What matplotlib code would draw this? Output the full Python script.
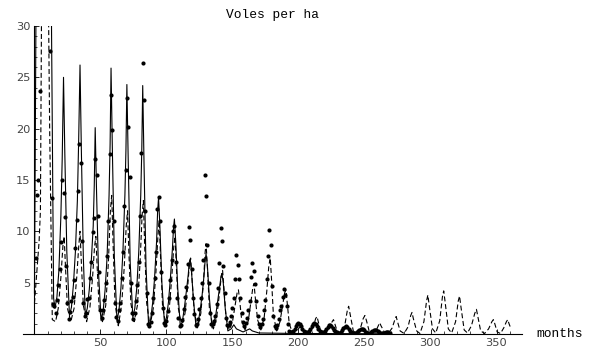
import matplotlib
matplotlib.use("Agg")
import matplotlib.pyplot as plt
from matplotlib.ticker import MultipleLocator

# solid line (model), vertices
solid_x = [0, 1.5, 12, 14.5,
           15.5, 17, 18.5, 20, 21, 22, 23, 24.5, 26.5,
           28, 29.5, 31, 32.5, 33.5, 34.5, 35.5, 37, 38.5,
           40, 41.5, 43, 44.5, 45.3, 46, 47, 48.5, 50.5,
           52, 53.5, 55, 56.5, 57.3, 58, 59, 60.5, 62.5,
           64, 65.5, 67, 68.5, 69.3, 70, 71, 72.5, 74.5,
           76, 77.5, 79, 80.5, 81.3, 82, 83, 84.5, 86.5,
           88, 89.5, 91, 92.5, 93.3, 94, 95, 96.5, 98.5,
           100, 101.5, 103, 104.5, 105.3, 106, 107, 108.5, 110.5,
           112, 113.5, 115, 116.5, 117.3, 118, 119, 120.5, 122.5,
           124, 125.5, 127, 128.5, 129.3, 130, 131, 132.5, 134.5,
           136, 137.5, 139, 140.5, 141.3, 142, 143, 144.5, 146.5,
           149, 151, 153, 158, 163, 165, 170, 200, 270]
solid_y = [4.0, 40, 45, 3.5,
           2.5, 3.6, 6.2, 11.5, 17, 25.0, 17.5, 8, 1.8,
           2.6, 4.8, 8.0, 13, 19, 26.2, 18, 7.5, 1.8,
           2.5, 4.3, 7.0, 10.5, 14.5, 20.1, 14, 6.0, 1.3,
           2.2, 4.3, 7.5, 13.5, 18.5, 25.9, 18, 7.5, 1.3,
           2.3, 4.5, 8.0, 13.5, 18, 24.3, 17, 7.0, 1.6,
           2.5, 4.5, 8.0, 13.5, 18, 24.2, 16.5, 6.5, 0.7,
           1.4, 3.0, 5.5, 9.0, 12, 13.3, 10.5, 5, 1.0,
           1.6, 3.1, 5.5, 8.3, 10.3, 11.2, 9, 4.5, 0.7,
           1.2, 2.5, 4.1, 5.8, 7.0, 7.3, 6.0, 3.2, 0.6,
           1.1, 2.3, 3.8, 5.8, 7.2, 7.8, 6.6, 3.5, 0.6,
           1.0, 2.0, 3.4, 4.8, 5.6, 5.9, 5.0, 2.5, 0.3,
           0.5, 0.9, 0.5, 0.2, 0.5, 0.3, 0.1, 0.05, 0.02]

# dashed line (second model)
dash_x = [0, 2, 3.5, 4.5, 5.5, 10, 11.5, 13.5,
          16, 18, 20, 21.5, 22.5, 23.5, 25, 27.5,
          30, 32, 33.5, 34.5, 35.5, 37, 39.5,
          42, 44, 45.5, 46.5, 47.5, 49, 51.5,
          54, 56, 57.5, 58.5, 59.5, 61, 63.5,
          66, 68, 69.5, 70.5, 71.5, 73, 75.5,
          78, 80, 81.5, 82.5, 83.5, 85, 87.5,
          90, 92, 93.5, 94.5, 95.5, 97, 99.5,
          102, 104, 105.5, 106.5, 107.5, 109, 111.5,
          114, 116, 117.5, 118.3, 119.3, 121, 123.5,
          126, 128, 129.3, 130, 131, 132.5, 135.5,
          138, 140, 141.5, 142.5, 143.5, 145, 147.5,
          150, 152, 153.5, 154.5, 155.5, 157, 159.5,
          162, 164, 165.5, 166.3, 167.3, 169, 171.5,
          174, 176, 177.5, 178.6, 179.5, 181, 183.5,
          186, 188, 189.5, 190.5, 191.5, 193, 195.5,
          199, 201, 202, 203, 205, 208,
          211, 213, 214, 215, 217, 220,
          223, 225.5, 226.5, 227.5, 229.5, 232,
          235, 237, 238, 239, 241.5, 244,
          247, 249, 250.3, 251.5, 253.5, 256,
          259, 260.8, 261.5, 262.5, 265, 268,
          271, 273, 274, 275, 277, 280,
          283, 285, 286, 287, 289.5, 292,
          295, 297, 298, 299, 301.5, 304,
          307, 309, 310, 311, 313.5, 316,
          319, 321, 322, 323, 325.5, 328,
          331, 333.5, 334.8, 336, 338, 341,
          344, 346.5, 347.6, 348.7, 350.5, 353,
          355.5, 357.5, 358.5, 359.5, 361]
dash_y = [3.0, 6.5, 9.0, 12, 35, 40, 20, 1.4,
          1.2, 2.5, 5.5, 8.5, 9.5, 6.5, 2.5, 1.2,
          2.5, 5.5, 8.5, 10, 7, 2.8, 1.2,
          2.6, 5.5, 8.5, 9.5, 6.5, 2.5, 1.2,
          2.8, 7, 12, 13.5, 9, 3, 0.8,
          2.8, 6.5, 10.5, 12, 8, 3, 1.2,
          2.8, 7, 11.5, 13, 8.5, 3, 0.8,
          2.5, 6, 9.5, 11, 7.5, 2.8, 0.8,
          2.3, 5.5, 8.5, 9.5, 6.5, 2.5, 0.7,
          2.0, 4.5, 7, 7.4, 5.5, 2.2, 0.6,
          2.0, 5.0, 8, 8.8, 6.5, 2.5, 0.5,
          1.6, 3.8, 5.6, 6.2, 4.5, 1.8, 0.4,
          1.2, 2.8, 4.0, 4.3, 3.2, 1.3, 0.4,
          1.3, 3.2, 4.6, 4.9, 3.5, 1.4, 0.4,
          1.6, 4.2, 6.6, 7.4, 5.5, 1.8, 0.3,
          1.2, 2.8, 4.0, 4.3, 3.0, 1.0, 0.1,
          0.3, 0.7, 0.8, 0.5, 0.1, 0.05,
          0.6, 1.5, 1.7, 1.2, 0.2, 0.05,
          0.5, 1.2, 1.4, 1.0, 0.2, 0.05,
          0.8, 2.3, 2.7, 2.0, 0.3, 0.05,
          0.6, 1.5, 1.8, 1.3, 0.3, 0.05,
          0.4, 0.9, 1.1, 0.8, 0.2, 0.05,
          0.6, 1.4, 1.7, 1.2, 0.3, 0.05,
          0.7, 1.8, 2.1, 1.5, 0.3, 0.05,
          1.2, 3.2, 3.8, 2.8, 0.5, 0.1,
          1.3, 3.6, 4.2, 3.2, 0.5, 0.1,
          1.2, 3.2, 3.7, 2.7, 0.4, 0.1,
          0.8, 2.0, 2.4, 1.6, 0.3, 0.05,
          0.5, 1.2, 1.4, 1.0, 0.2, 0.05,
          0.6, 1.2, 1.4, 1.0, 0.5]

# monthly points, months 1..269
dot_y = [7.4, 13.5, 15.0, 23.7, 34, 40, 44, 45, 42, 38, 33, 27.6,
         13.2, 2.9, 2.7, 2.0, 3.3, 4.8, 6.3, 9.0, 15.0, 13.7, 11.4, 6.6,
         3.0, 1.5, 2.1, 3.2, 3.6, 5.3, 8.4, 11.1, 13.9, 18.5, 16.7, 9.1,
         3.0, 1.8, 2.0, 3.4, 3.5, 5.5, 7.0, 9.9, 11.3, 17.0, 15.5, 11.5,
         6.0, 2.3, 1.6, 2.3, 3.3, 5.0, 7.6, 11.0, 17.5, 23.3, 19.9, 11.0,
         3.0, 1.7, 1.3, 2.3, 3.0, 5.5, 8.0, 12.5, 16.0, 23.0, 20.2, 15.3,
         5.0, 2.0, 1.5, 2.0, 3.2, 4.8, 7.0, 11.5, 17.6, 26.4, 22.8, 12.0,
         4.0, 1.0, 0.8, 1.2, 2.0, 3.5, 5.5, 8.0, 12.2, 13.3, 11.0, 6.0,
         2.5, 1.1, 0.9, 1.3, 2.2, 3.5, 5.3, 7.2, 10.0, 10.5, 7.0, 3.5,
         1.6, 0.8, 0.9, 1.4, 2.4, 3.6, 4.6, 6.8, 10.4, 9.2, 6.3, 3.5,
         1.9, 0.9, 1.0, 1.5, 2.4, 3.5, 5.0, 7.2, 15.5, 13.4, 8.7, 5.0,
         2.0, 1.0, 1.0, 1.3, 1.8, 2.9, 4.5, 6.9, 10.3, 9.1, 6.6, 4.0,
         1.6, 0.9, 0.9, 1.2, 1.8, 2.5, 3.5, 5.35, 7.7, 6.7, 5.35, 3.5,
         2.0, 1.2, 0.8, 1.1, 1.6, 2.3, 3.2, 5.6, 6.9, 6.1, 4.9, 3.2,
         1.8, 1.0, 0.7, 1.0, 1.5, 2.3, 3.3, 5.4, 7.6, 10.1, 8.7, 4.7,
         1.8, 0.8, 0.6, 0.9, 1.5, 2.3, 2.7, 3.6, 4.4, 3.8, 2.7, 1.0,
         0.3, 0.2, 0.2, 0.3, 0.5, 0.8, 1.0, 1.1, 1.0, 0.8, 0.5, 0.3,
         0.2, 0.2, 0.2, 0.3, 0.5, 0.8, 1.0, 1.05, 0.95, 0.75, 0.5, 0.3,
         0.2, 0.15, 0.15, 0.25, 0.45, 0.7, 0.85, 0.9, 0.8, 0.6, 0.4, 0.25,
         0.15, 0.1, 0.1, 0.2, 0.35, 0.55, 0.7, 0.75, 0.65, 0.5, 0.3, 0.2,
         0.1, 0.1, 0.1, 0.15, 0.25, 0.4, 0.5, 0.5, 0.45, 0.35, 0.2, 0.1,
         0.05, 0.1, 0.15, 0.25, 0.35, 0.4, 0.35, 0.25, 0.15, 0.1, 0.05, 0.05,
         0.1, 0.15, 0.2, 0.15, 0.1]
dot_x = list(range(1, len(dot_y) + 1))

x_ticks = [50, 100, 150, 200, 250, 300, 350]
y_ticks = [5, 10, 15, 20, 25, 30]

fig = plt.figure(figsize=(5.94, 3.5), dpi=100)
ax = fig.add_axes([0.0387, 0.0457, 0.8394, 0.88])

ax.plot(solid_x, solid_y, color='black', lw=0.8)
ax.plot(dash_x, dash_y, color='black', lw=0.8, dashes=(4.5, 2.5))
ax.plot(dot_x, dot_y, 'o', color='black', ms=3.0, mew=0)

ax.set_xlim(-8.7, 369)
ax.set_ylim(0, 30)
for s in ('top', 'right'):
    ax.spines[s].set_visible(False)
ax.spines['left'].set_position(('data', 0))
for s in ('left', 'bottom'):
    ax.spines[s].set_linewidth(0.8)

ax.set_xticks(x_ticks)
ax.set_yticks(y_ticks)
ax.xaxis.set_minor_locator(MultipleLocator(10))
ax.yaxis.set_minor_locator(MultipleLocator(1))
ax.tick_params(which='major', direction='in', length=3.5, width=0.6,
               labelsize=8.2, labelcolor='#444444', pad=3)
ax.tick_params(which='minor', direction='in', length=2, width=0.5)

mono = 'Liberation Mono'
ax.set_title('Voles per ha', fontfamily=mono, fontsize=9.3, pad=6)
ax.text(1.03, 0.0, 'months', transform=ax.transAxes, fontfamily=mono,
        fontsize=9.3, va='center', ha='left')

fig.savefig('out.png', dpi=100)
